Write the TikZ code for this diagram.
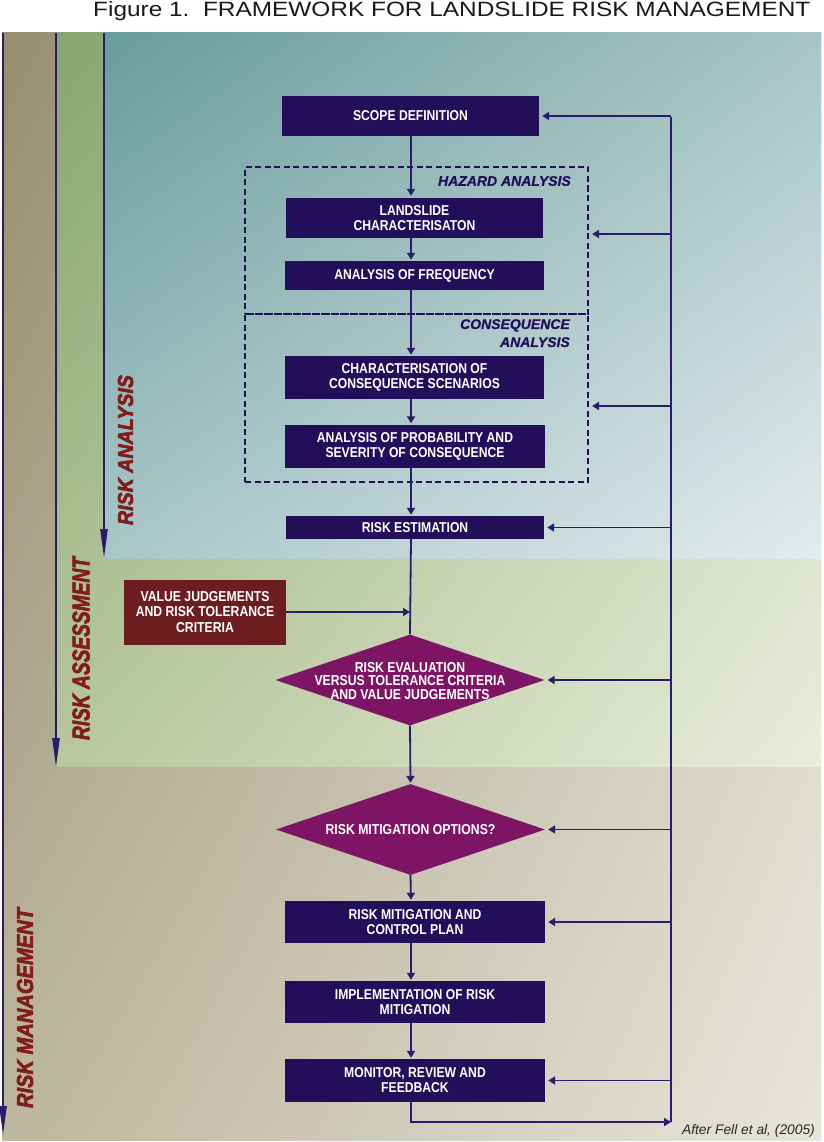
\documentclass[tikz,border=0pt]{standalone}
\usepackage{fontspec}
\setmainfont{Liberation Sans}
\newfontfamily\boxfont[FakeStretch=0.85]{Liberation Sans}
\newfontfamily\sidefont[FakeBold=3]{Liberation Sans Bold Italic}
\newfontfamily\groupfnt[FakeBold=0.8]{Liberation Sans Bold Italic}
\usetikzlibrary{arrows.meta,shapes.geometric,shadings}
\definecolor{navy}{HTML}{230E5A}
\definecolor{linec}{HTML}{2A1C6A}
\definecolor{diamc}{HTML}{7D1464}
\definecolor{valc}{HTML}{6B1D20}
\definecolor{labred}{HTML}{801C1E}
\definecolor{tanA}{HTML}{958E72}
\definecolor{tanB}{HTML}{D0CCB9}
\definecolor{tanC}{HTML}{BDB79E}
\definecolor{tanD}{HTML}{E7E5DC}
\definecolor{grA}{HTML}{86A673}
\definecolor{grB}{HTML}{C8D4B0}
\definecolor{grC}{HTML}{B9C79B}
\definecolor{grD}{HTML}{E9EDDD}
\definecolor{teA}{HTML}{6A9C9C}
\definecolor{teB}{HTML}{A8C5C4}
\definecolor{teC}{HTML}{A9C6C8}
\definecolor{teD}{HTML}{E3EBEE}
\begin{document}
\begin{tikzpicture}[x=1pt,y=-1pt,
  stepbox/.style={fill=navy, text=white, font=\boxfont\bfseries\fontsize{14.3}{15}\selectfont, align=center, inner sep=0pt},
  valbox/.style={fill=valc, text=white, font=\boxfont\bfseries\fontsize{14.4}{15.7}\selectfont, align=center, inner sep=0pt},
  diam/.style={diamond, fill=diamc, inner sep=0pt, minimum width=269pt, minimum height=91pt},
  diamtext/.style={text=white, font=\boxfont\bfseries\fontsize{14.4}{13.9}\selectfont, align=center, inner sep=0pt},
  dashbox/.style={draw=navy, line width=2.2pt, dash pattern=on 6pt off 3.5pt, inner sep=0pt},
  groupfont/.style={text=navy, font=\groupfnt\fontsize{14}{18}\selectfont, inner sep=0pt},
  flow/.style={draw=linec, line width=1.8pt},
  arr/.style={flow, -{Triangle[length=7pt,width=8pt]}},
  fbarr/.style={arr, shorten >=3pt},
  sidearr/.style={draw=linec, line width=2.6pt, -{Triangle[length=30pt,width=7pt]}},
  sidelab/.style={text=labred, rotate=90, inner sep=0pt}
]
\useasboundingbox (0,0) rectangle (823,1142);
\fill[white] (0,0) rectangle (823,1142);
% background regions
\shade[upper left=tanA, upper right=tanB, lower left=tanC, lower right=tanD] (2,33) rectangle (821,1140);
\shade[upper left=grA, upper right=grB, lower left=grC, lower right=grD] (56,33) rectangle (821,766);
\shade[upper left=teA, upper right=teB, lower left=teC, lower right=teD] (104,33) rectangle (821,558);

% title
\node[anchor=base west, inner sep=0pt, text=black!90] (title) at (93,16.7)
  {\resizebox{717pt}{15pt}{Figure 1.\ \ FRAMEWORK FOR LANDSLIDE RISK MANAGEMENT}};

% side arrows
\coordinate (s1t) at (3,33);  \coordinate (s1b) at (3,1136);
\coordinate (s2t) at (56,33); \coordinate (s2b) at (56,768);
\coordinate (s3t) at (104,33); \coordinate (s3b) at (104,559);
\draw[sidearr] (s1t) -- (s1b);
\draw[sidearr] (s2t) -- (s2b);
\draw[sidearr] (s3t) -- (s3b);

% side labels
\node[sidelab] (lab1) at (125.5,450) {\resizebox{150pt}{15pt}{\sidefont RISK ANALYSIS}};
\node[sidelab] (lab2) at (81,648.5) {\resizebox{183pt}{17pt}{\sidefont RISK ASSESSMENT}};
\node[sidelab] (lab3) at (25,1008) {\resizebox{200pt}{16pt}{\sidefont RISK MANAGEMENT}};

% dashed group boxes
\node[dashbox, minimum width=343pt, minimum height=147pt] (hazbox) at (416.5,240.5) {};
\node[dashbox, minimum width=343pt, minimum height=168pt] (consbox) at (416.5,398) {};
\node[groupfont, anchor=east] (hazlab) at (571,181) {HAZARD ANALYSIS};
\node[groupfont, anchor=north east, align=right] (conslab) at (570,319) {CONSEQUENCE\\ANALYSIS};

% flow x
\coordinate (fx) at (411,0);

% boxes
\node[stepbox, minimum width=257pt, minimum height=40pt] (scope) at (410.5,116) {SCOPE DEFINITION};
\node[stepbox, minimum width=257pt, minimum height=40pt] (land) at (414.5,218) {LANDSLIDE\\CHARACTERISATON};
\node[stepbox, minimum width=259pt, minimum height=29pt] (freq) at (414.5,275.5) {ANALYSIS OF FREQUENCY};
\node[stepbox, minimum width=259pt, minimum height=43pt] (char) at (414.5,377.5) {CHARACTERISATION OF\\CONSEQUENCE SCENARIOS};
\node[stepbox, minimum width=260pt, minimum height=43pt] (prob) at (415,446) {ANALYSIS OF PROBABILITY AND\\SEVERITY OF CONSEQUENCE};
\node[stepbox, minimum width=258pt, minimum height=23pt] (est) at (415,527.5) {RISK ESTIMATION};
\node[valbox, minimum width=162pt, minimum height=65pt] (value) at (205,612) {VALUE JUDGEMENTS\\AND RISK TOLERANCE\\CRITERIA};
\node[diam] (eval) at (410,680) {};
\node[diamtext] (evaltext) at (410,681) {RISK EVALUATION\\VERSUS TOLERANCE CRITERIA\\AND VALUE JUDGEMENTS};
\node[diam] (mit) at (410.5,829.5) {};
\node[diamtext] (mittext) at (410.5,829.5) {RISK MITIGATION OPTIONS?};
\node[stepbox, minimum width=260pt, minimum height=42pt] (plan) at (415,922) {RISK MITIGATION AND\\CONTROL PLAN};
\node[stepbox, minimum width=260pt, minimum height=42pt] (impl) at (415,1002) {IMPLEMENTATION OF RISK\\MITIGATION};
\node[stepbox, minimum width=260pt, minimum height=43pt] (mon) at (415,1080.5) {MONITOR, REVIEW AND\\FEEDBACK};

% main flow
\draw[arr, shorten >=2pt] (scope.south -| fx) -- (land.north -| fx);
\draw[arr, shorten >=1pt] (land.south -| fx) -- (freq.north -| fx);
\draw[arr, shorten >=1pt] (freq.south -| fx) -- (char.north -| fx);
\draw[arr, shorten >=1pt] (char.south -| fx) -- (prob.north -| fx);
\draw[arr, shorten >=1pt] (prob.south -| fx) -- (est.north -| fx);
\draw[flow] (est.south -| fx) -- (eval.north);
\draw[arr, shorten >=1pt] (value.east) -- (value.east -| fx);
\draw[arr, shorten >=1pt] (eval.south) -- (mit.north);
\draw[arr, shorten >=1pt] (mit.south) -- (plan.north -| fx);
\draw[arr, shorten >=1pt] (plan.south -| fx) -- (impl.north -| fx);
\draw[arr, shorten >=1pt] (impl.south -| fx) -- (mon.north -| fx);

% feedback loop
\coordinate (fbt) at (671,117);
\coordinate (fbb) at (671,1122);
\draw[flow] (fbt) -- (fbb);
\draw[arr] (mon.south -| fx) |- (fbb);
\draw[fbarr] (scope.east -| fbt) -- (scope.east);
\draw[fbarr] ([yshift=6.5pt]hazbox.east -| fbt) -- ([yshift=6.5pt]hazbox.east);
\draw[fbarr] ([yshift=-8pt]consbox.east -| fbt) -- ([yshift=-8pt]consbox.east);
\draw[fbarr] (est.east -| fbt) -- (est.east);
\draw[fbarr] (eval.east -| fbt) -- (eval.east);
\draw[fbarr] (mit.east -| fbt) -- (mit.east);
\draw[fbarr] (plan.east -| fbt) -- (plan.east);
\draw[fbarr] (mon.east -| fbt) -- (mon.east);

% credit
\node[anchor=base east, inner sep=0pt, text=black!85, font=\itshape\fontsize{13.8}{16}\selectfont] (credit) at (815,1134) {After Fell et al, (2005)};
\end{tikzpicture}
\end{document}
